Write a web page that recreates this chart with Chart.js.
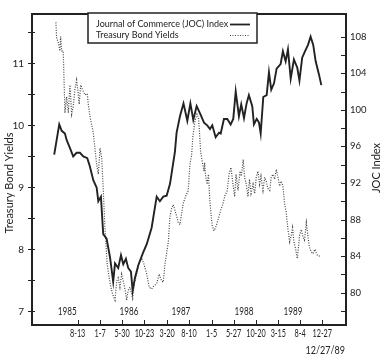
<!DOCTYPE html>
<html>
<head>
<meta charset="utf-8">
<script src="https://cdn.jsdelivr.net/npm/chart.js@4.4.0/dist/chart.umd.min.js"></script>
<style>
  html, body { margin: 0; padding: 0; background: #fff; }
  #wrap { width: 384px; height: 363px; position: relative; }
</style>
</head>
<body>
<div id="wrap"><canvas id="chart"></canvas></div>
<script>
// x values are days counted from 1 Jan 1985
const tickDays = [224, 371, 514, 660, 808, 951, 1099, 1242, 1388, 1534, 1676, 1821];
const tickLabels = ['8-13', '1-7', '5-30', '10-23', '3-20', '8-10', '1-5', '5-27', '10-20', '3-15', '8-4', '12-27'];
const endDateLabel = '12/27/89';
const yearLabels = ['1985', '1986', '1987', '1988', '1989'];
const yearDays = [156, 559, 898, 1310, 1630];

const jocDays = [71, 104, 120, 141, 152, 174, 195, 217, 239, 261, 287, 304, 326, 348, 359, 376, 391, 413, 435, 456,
  468, 489, 507, 522, 539, 554, 572, 583, 598, 620, 652, 675, 707, 740, 761, 783, 805, 827, 859, 870,
  892, 915, 940, 960, 979, 1001, 1023, 1049, 1070, 1088, 1103, 1125, 1147, 1158, 1179, 1201, 1223, 1240, 1256, 1277,
  1292, 1310, 1327, 1342, 1364, 1375, 1393, 1408, 1419, 1436, 1458, 1473, 1488, 1506, 1523, 1549, 1564, 1582, 1597, 1615,
  1636, 1658, 1672, 1690, 1708, 1728, 1745, 1762, 1778, 1799, 1815];
const jocIndex = [95.1, 98.4, 97.7, 97.4, 96.7, 95.8, 94.9, 95.3, 95.3, 94.9, 94.7, 93.8, 92.3, 91.5, 90.0, 90.5, 86.4, 85.9, 83.9, 81.2,
  83.2, 82.7, 84.1, 83.1, 83.7, 82.7, 82.3, 80.2, 81.6, 83.0, 84.4, 85.3, 87.1, 90.5, 90.0, 90.5, 90.6, 91.9, 95.4, 97.5,
  99.3, 100.7, 98.8, 100.7, 98.9, 100.4, 99.6, 98.6, 98.3, 97.9, 98.3, 97.0, 97.5, 97.4, 99.0, 99.0, 98.4, 99.0, 102.0, 99.3,
  100.6, 99.1, 100.7, 101.6, 100.4, 98.4, 99.0, 98.6, 97.4, 101.4, 101.6, 104.1, 102.2, 102.9, 104.5, 105.0, 106.4, 105.3, 106.6, 103.4,
  105.5, 104.6, 103.2, 105.7, 106.4, 107.1, 108.0, 107.1, 105.3, 103.9, 102.7];

const bondDays = [82, 87, 97, 108, 113, 120, 130, 141, 152, 163, 174, 185, 195, 206, 217, 228, 234, 244, 257, 272,
  287, 293, 304, 326, 348, 359, 370, 381, 391, 402, 417, 430, 441, 452, 468, 479, 489, 500, 511, 522,
  533, 544, 554, 565, 583, 594, 609, 626, 642, 657, 675, 691, 707, 722, 740, 757, 772, 783, 794, 816,
  827, 838, 848, 870, 881, 892, 913, 931, 946, 957, 968, 977, 990, 1003, 1013, 1019, 1027, 1038, 1049, 1053,
  1060, 1070, 1078, 1086, 1094, 1103, 1114, 1125, 1135, 1153, 1173, 1186, 1201, 1212, 1225, 1238, 1249, 1258, 1271, 1284,
  1293, 1305, 1314, 1325, 1336, 1346, 1356, 1369, 1380, 1390, 1401, 1412, 1421, 1434, 1445, 1455, 1466, 1478, 1488, 1499,
  1510, 1521, 1532, 1543, 1553, 1564, 1575, 1586, 1597, 1608, 1619, 1627, 1636, 1647, 1658, 1666, 1673, 1684, 1695, 1705,
  1717, 1728, 1737, 1749, 1760, 1773, 1788, 1799, 1810];
const bondYields = [11.66, 11.40, 11.35, 11.20, 11.43, 11.20, 11.20, 10.20, 10.46, 10.20, 10.65, 10.18, 10.30, 10.57, 10.73, 10.51, 10.34, 10.65, 10.57, 10.49,
  10.51, 10.35, 10.15, 9.88, 9.37, 9.21, 9.63, 9.48, 8.98, 8.35, 7.76, 7.54, 7.39, 7.28, 7.18, 7.49, 7.54, 7.39, 7.60, 7.49,
  7.36, 7.18, 7.34, 7.39, 7.21, 7.45, 7.60, 7.80, 7.86, 7.76, 7.60, 7.39, 7.36, 7.41, 7.45, 7.60, 7.49, 7.47, 7.76, 8.12,
  8.54, 8.66, 8.72, 8.54, 8.43, 8.40, 8.74, 8.87, 8.95, 9.37, 9.52, 9.84, 10.07, 10.18, 10.12, 9.91, 9.57, 9.41, 9.26, 9.40,
  9.16, 9.05, 9.21, 8.82, 8.59, 8.38, 8.30, 8.35, 8.43, 8.59, 8.74, 8.87, 8.95, 9.21, 9.32, 9.05, 8.85, 9.21, 8.95, 9.26,
  9.18, 9.45, 9.16, 9.05, 8.85, 9.13, 8.90, 9.05, 8.90, 9.16, 9.26, 9.05, 9.18, 8.95, 9.16, 9.10, 8.98, 8.95, 9.16, 9.21,
  9.13, 9.29, 9.16, 9.02, 9.10, 9.02, 8.74, 8.59, 8.32, 8.12, 8.23, 8.35, 8.12, 8.01, 7.85, 8.04, 8.23, 8.32, 8.20, 8.15,
  8.43, 8.20, 8.04, 7.96, 7.93, 8.00, 7.91, 7.90, 7.87];

const jocLabel = 'Journal of Commerce (JOC) Index';
const bondLabel = 'Treasury Bond Yields';
const leftTitle = 'Treasury Bond Yields';
const rightTitle = 'JOC Index';

const FONT = 'Lato, "Open Sans", sans-serif';
const INK = '#222';
const DOT = '#444';

const yieldTicks = [7, 7.5, 8, 8.5, 9, 9.5, 10, 10.5, 11, 11.5];
const jocTicks = [78, 80, 82, 84, 86, 88, 90, 92, 94, 96, 98, 100, 102, 104, 106, 108];

// the date labels in the original are set in a narrow face: squeeze Lato sideways
function narrowText(ctx, text, x, y, squeeze) {
    ctx.save();
    ctx.translate(x, y);
    ctx.scale(squeeze, 1);
    ctx.fillText(text, 0, 0);
    ctx.restore();
}

// frame, inside tick marks, date labels, titles and the boxed legend
const decor = {
    id: 'decor',
    afterDraw(chart) {
        const { ctx, chartArea: a, scales } = chart;
        ctx.save();
        ctx.strokeStyle = INK;
        ctx.lineWidth = 2;
        ctx.strokeRect(a.left, a.top, a.right - a.left, a.bottom - a.top);

        ctx.lineWidth = 1;
        ctx.beginPath();
        scales.y.ticks.forEach(t => {
            const p = Math.round(scales.y.getPixelForValue(t.value)) + 0.5;
            ctx.moveTo(a.left - 4, p); ctx.lineTo(a.left + 3, p);
        });
        scales.y1.ticks.forEach(t => {
            const p = Math.round(scales.y1.getPixelForValue(t.value)) + 0.5;
            ctx.moveTo(a.right - 5, p); ctx.lineTo(a.right, p);
        });
        tickDays.forEach(d => {
            const p = Math.round(scales.x.getPixelForValue(d)) + 0.5;
            ctx.moveTo(p, a.bottom - 5); ctx.lineTo(p, a.bottom);
        });
        ctx.stroke();

        ctx.fillStyle = INK;
        ctx.textAlign = 'center';
        ctx.textBaseline = 'middle';
        ctx.font = '11px ' + FONT;
        const yy = scales.y.getPixelForValue(7);
        yearLabels.forEach((lab, i) => narrowText(ctx, lab, scales.x.getPixelForValue(yearDays[i]), yy, 0.74));
        tickLabels.forEach((lab, i) => narrowText(ctx, lab, scales.x.getPixelForValue(tickDays[i]), 333, 0.66));
        narrowText(ctx, endDateLabel, scales.x.getPixelForValue(tickDays[tickDays.length - 1]) + 3, 350, 0.82);

        // axis titles, both reading upwards
        ctx.font = '11px ' + FONT;
        ctx.save();
        ctx.translate(9, 183);
        ctx.rotate(-Math.PI / 2);
        ctx.fillText(leftTitle, 0, 0);
        ctx.restore();
        ctx.save();
        ctx.translate(376, 168);
        ctx.rotate(-Math.PI / 2);
        ctx.fillText(rightTitle, 0, 0);
        ctx.restore();

        // legend
        ctx.font = '9px ' + FONT;
        ctx.fillStyle = '#fff';
        ctx.fillRect(88, 13, 169, 30);
        ctx.strokeStyle = INK;
        ctx.lineWidth = 1.5;
        ctx.strokeRect(88, 13, 169, 30);
        ctx.fillStyle = INK;
        ctx.textAlign = 'left';
        ctx.fillText(jocLabel, 96, 24);
        ctx.fillText(bondLabel, 96, 35);
        ctx.lineWidth = 1.8;
        ctx.beginPath();
        ctx.moveTo(230, 24.5); ctx.lineTo(250, 24.5);
        ctx.stroke();
        ctx.strokeStyle = DOT;
        ctx.lineWidth = 1.1;
        ctx.setLineDash([1, 1.5]);
        ctx.beginPath();
        ctx.moveTo(230, 35.5); ctx.lineTo(250, 35.5);
        ctx.stroke();
        ctx.restore();
    }
};

new Chart(document.getElementById('chart'), {
    type: 'line',
    data: {
        datasets: [
            {
                label: jocLabel,
                data: jocDays.map((d, i) => ({ x: d, y: jocIndex[i] })),
                yAxisID: 'y1',
                borderColor: INK,
                borderWidth: 1.9,
                pointRadius: 0,
                tension: 0
            },
            {
                label: bondLabel,
                data: bondDays.map((d, i) => ({ x: d, y: bondYields[i] })),
                yAxisID: 'y',
                borderColor: DOT,
                borderWidth: 1.2,
                borderDash: [1, 1.5],
                pointRadius: 0,
                tension: 0
            }
        ]
    },
    options: {
        responsive: true,
        maintainAspectRatio: false,
        animation: false,
        layout: { padding: { top: 5, left: 0, right: 0, bottom: 0 } },
        plugins: { legend: { display: false }, tooltip: { enabled: false } },
        scales: {
            x: {
                type: 'linear',
                position: 'bottom',
                min: -74,
                max: 1976,
                afterBuildTicks: s => { s.ticks = tickDays.map(v => ({ value: v })); },
                afterFit: s => { s.height = 38; },
                grid: { display: false, drawTicks: false },
                border: { display: false },
                ticks: { display: false }
            },
            y: {
                position: 'left',
                min: 6.78,
                max: 11.795,
                afterBuildTicks: s => { s.ticks = yieldTicks.map(v => ({ value: v })); },
                afterFit: s => { s.width = 32; },
                grid: { display: false, drawTicks: false },
                border: { display: false },
                ticks: {
                    padding: 8,
                    color: INK,
                    font: { family: FONT, size: 10 },
                    callback: v => Number.isInteger(v) ? String(v) : ''
                }
            },
            y1: {
                position: 'right',
                min: 76.46,
                max: 110.48,
                afterBuildTicks: s => { s.ticks = jocTicks.map(v => ({ value: v })); },
                afterFit: s => { s.width = 38; },
                grid: { display: false, drawTicks: false },
                border: { display: false },
                ticks: {
                    padding: 4,
                    color: INK,
                    font: { family: FONT, size: 9.5 },
                    callback: v => (v % 4 === 0 && v >= 80) ? String(v) : ''
                }
            }
        }
    },
    plugins: [decor]
});
</script>
</body>
</html>
